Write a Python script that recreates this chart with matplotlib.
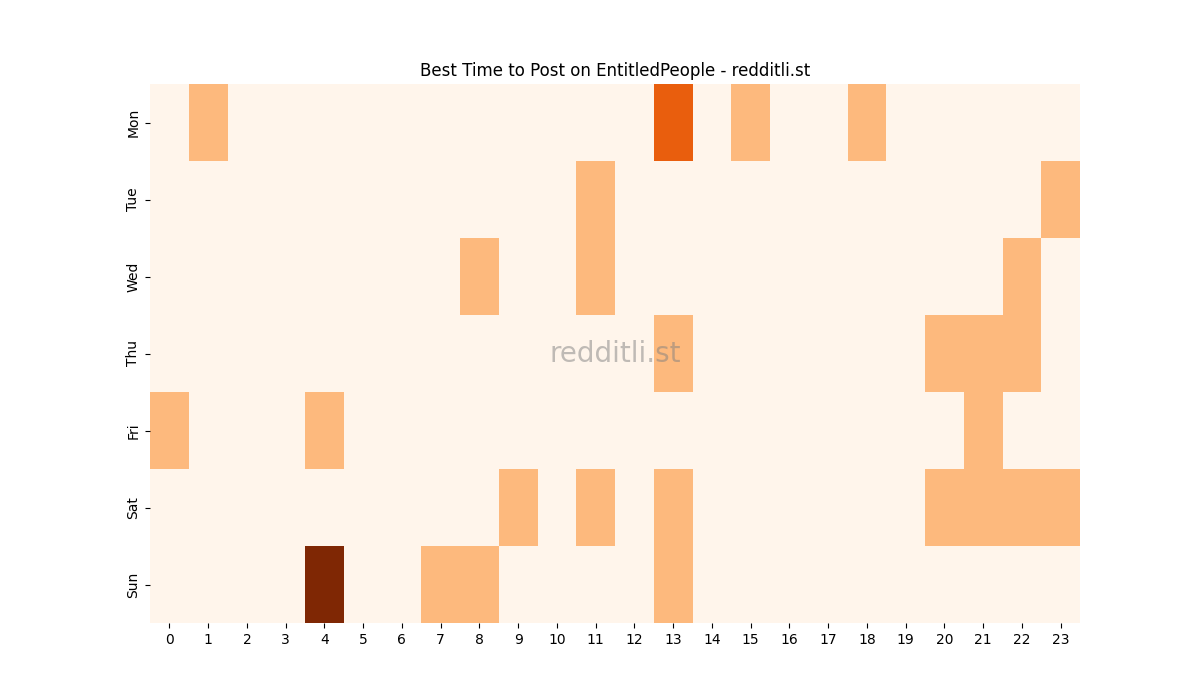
import numpy as np
import pandas as pd
import matplotlib
matplotlib.use("Agg")
import matplotlib.pyplot as plt
import seaborn as sns

days = ["Mon", "Tue", "Wed", "Thu", "Fri", "Sat", "Sun"]
hours = list(range(24))

# posts per (day, hour)
mon = [0, 1, 0, 0, 0, 0, 0, 0, 0, 0, 0, 0, 0, 2, 0, 1, 0, 0, 1, 0, 0, 0, 0, 0]
tue = [0, 0, 0, 0, 0, 0, 0, 0, 0, 0, 0, 1, 0, 0, 0, 0, 0, 0, 0, 0, 0, 0, 0, 1]
wed = [0, 0, 0, 0, 0, 0, 0, 0, 1, 0, 0, 1, 0, 0, 0, 0, 0, 0, 0, 0, 0, 0, 1, 0]
thu = [0, 0, 0, 0, 0, 0, 0, 0, 0, 0, 0, 0, 0, 1, 0, 0, 0, 0, 0, 0, 1, 1, 1, 0]
fri = [1, 0, 0, 0, 1, 0, 0, 0, 0, 0, 0, 0, 0, 0, 0, 0, 0, 0, 0, 0, 0, 1, 0, 0]
sat = [0, 0, 0, 0, 0, 0, 0, 0, 0, 1, 0, 1, 0, 1, 0, 0, 0, 0, 0, 0, 1, 1, 1, 1]
sun = [0, 0, 0, 0, 3, 0, 0, 1, 1, 0, 0, 0, 0, 1, 0, 0, 0, 0, 0, 0, 0, 0, 0, 0]

df = pd.DataFrame([mon, tue, wed, thu, fri, sat, sun], index=days, columns=hours)

fig, ax = plt.subplots(figsize=(12, 7), dpi=100)
sns.heatmap(df, cmap="Oranges", cbar=False, ax=ax)
ax.set_title("Best Time to Post on EntitledPeople - redditli.st")
ax.text(0.5, 0.5, "redditli.st", transform=ax.transAxes, ha="center", va="center",
        fontsize=20, color="gray", alpha=0.5)

plt.savefig("out.png", dpi=100)
